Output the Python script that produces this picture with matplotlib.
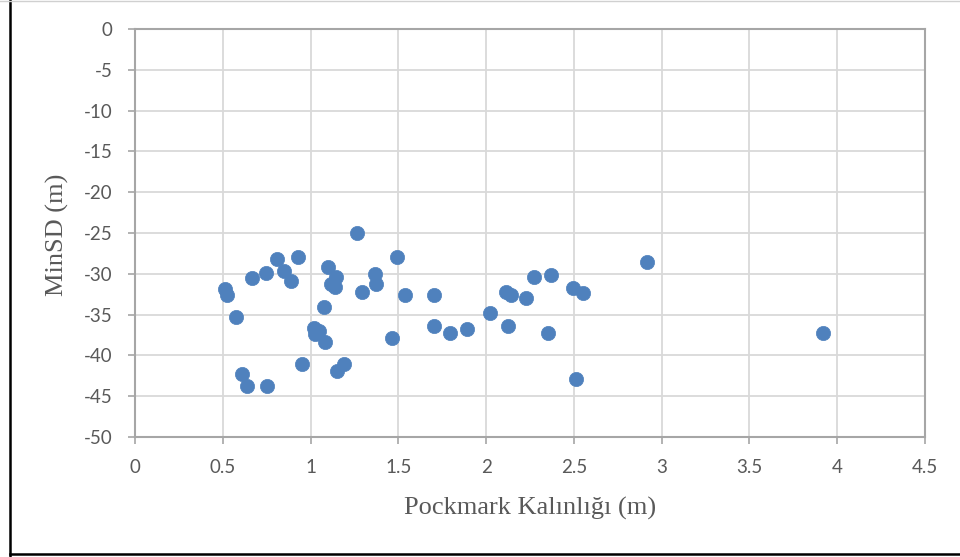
import matplotlib
matplotlib.use("Agg")
import matplotlib.pyplot as plt
from matplotlib.lines import Line2D

# Pockmark thickness (m) and minimum seafloor depth (m)
thickness = [0.510, 0.523, 0.576, 0.612, 0.637, 0.751, 0.666, 0.744, 0.808, 0.846,
             0.888, 0.926, 0.950, 1.017, 1.046, 1.027, 1.084, 1.074, 1.097, 1.115,
             1.141, 1.146, 1.188, 1.150, 1.265, 1.293, 1.369, 1.375, 1.464, 1.493,
             1.536, 1.706, 1.706, 1.797, 1.892, 2.025, 2.116, 2.143, 2.124, 2.229,
             2.274, 2.367, 2.352, 2.495, 2.554, 2.512, 2.915, 3.921]
min_sd = [-31.9, -32.6, -35.3, -42.3, -43.7, -43.7, -30.5, -29.9, -28.15, -29.7,
          -30.9, -27.95, -41.0, -36.6, -37.0, -37.4, -38.3, -34.1, -29.2, -31.2,
          -31.6, -30.4, -41.0, -41.9, -24.97, -32.2, -30.0, -31.2, -37.9, -27.95,
          -32.6, -32.6, -36.4, -37.3, -36.8, -34.8, -32.2, -32.6, -36.35, -33.0,
          -30.4, -30.2, -37.3, -31.75, -32.4, -42.85, -28.6, -37.26]

x_ticks = [0, 0.5, 1, 1.5, 2, 2.5, 3, 3.5, 4, 4.5]
x_tick_labels = ["0", "0.5", "1", "1.5", "2", "2.5", "3", "3.5", "4", "4.5"]
y_ticks = [0, -5, -10, -15, -20, -25, -30, -35, -40, -45, -50]
y_tick_labels = ["0", "-5", "-10", "-15", "-20", "-25", "-30", "-35", "-40", "-45", "-50"]

x_title = "Pockmark Kalınlığı (m)"
y_title = "MinSD (m)"

W, H = 960, 557
fig = plt.figure(figsize=(W / 100, H / 100), dpi=100)
fig.patch.set_facecolor("white")

ax = fig.add_axes([135 / W, (H - 437) / H, (925 - 135) / W, (437 - 29) / H])
ax.set_xlim(0, 4.5)
ax.set_ylim(-50, 0)

grid_c = "#D9D9D9"
axis_c = "#A6A6A6"
text_c = "#595959"

ax.set_xticks(x_ticks)
ax.set_xticklabels(x_tick_labels)
ax.set_yticks(y_ticks)
ax.set_yticklabels(y_tick_labels)
ax.grid(True, color=grid_c, linewidth=1.3)
ax.set_axisbelow(True)

for side in ["left", "bottom", "top", "right"]:
    ax.spines[side].set_color(axis_c)
    ax.spines[side].set_linewidth(1.5)

ax.tick_params(axis="both", colors=axis_c, length=5, width=1.2, direction="out",
               labelcolor=text_c, labelsize=13.5)
ax.tick_params(axis="x", pad=11)
ax.tick_params(axis="y", pad=11)
for lbl in ax.get_xticklabels() + ax.get_yticklabels():
    lbl.set_fontfamily(["Lato", "DejaVu Sans"])

ax.scatter(thickness, min_sd, s=105, color="#4F81BD", edgecolors="#4F81BD",
           linewidths=0.5, zorder=3, clip_on=False)

fig.text(530 / W, 1 - 508 / H, x_title, ha="center", va="center",
         fontsize=19, color=text_c, family=["Liberation Serif", "DejaVu Serif"])
fig.text(57 / W, 1 - 235 / H, y_title, ha="center", va="center", rotation=90,
         fontsize=19, color=text_c, family=["Liberation Serif", "DejaVu Serif"])

# outer frame: dark lines on left and bottom, faint line on top
fig.add_artist(Line2D([9.5 / W, 9.5 / W], [0, 1], color="black", linewidth=1.8,
                      transform=fig.transFigure))
fig.add_artist(Line2D([9.5 / W, 1], [1 - 554 / H, 1 - 554 / H], color="black",
                      linewidth=1.8, transform=fig.transFigure))
fig.add_artist(Line2D([0, 1], [1 - 0.5 / H, 1 - 0.5 / H], color="#D0D0D0",
                      linewidth=1.0, transform=fig.transFigure))

fig.savefig("out.png", dpi=100, facecolor="white")
